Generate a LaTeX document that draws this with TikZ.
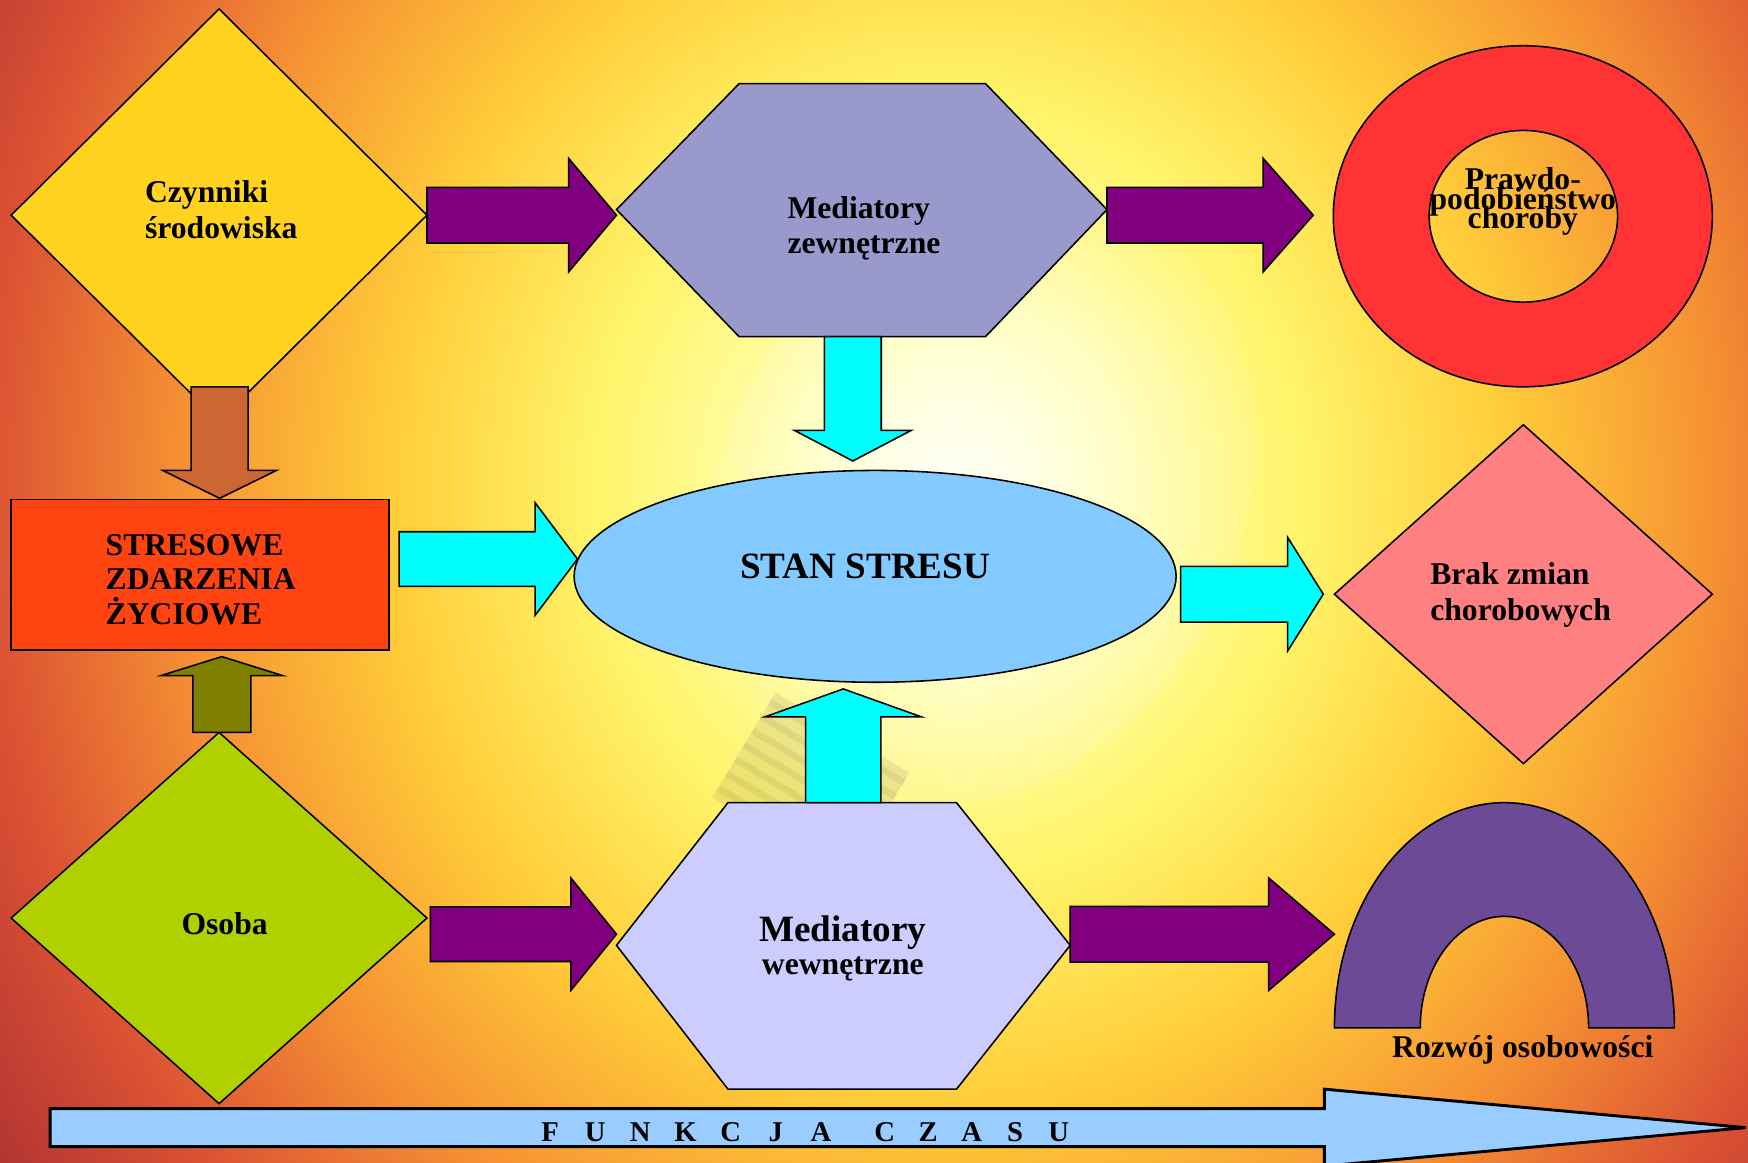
\documentclass[tikz,border=0pt]{standalone}
\usepackage{fontspec}
\setmainfont{Liberation Serif}
\usetikzlibrary{shapes.geometric,calc,fadings}
\definecolor{dyellow}{HTML}{FFD320}
\definecolor{dgreen}{HTML}{B0D000}
\definecolor{dpink}{HTML}{FF8080}
\definecolor{rectred}{HTML}{FF4411}
\definecolor{elblue}{HTML}{82CAFF}
\definecolor{hexa}{HTML}{9999CC}
\definecolor{hexb}{HTML}{CCCCFF}
\definecolor{ringred}{HTML}{FF3333}
\definecolor{archviolet}{HTML}{6C4A96}
\definecolor{timeblue}{HTML}{99CCFF}
\definecolor{apurple}{HTML}{800080}
\definecolor{acyan}{HTML}{00FFFF}
\definecolor{abrown}{HTML}{CC6633}
\definecolor{aolive}{HTML}{808000}
\pgfdeclareradialshading{bgshade}{\pgfpoint{0bp}{0bp}}{%
 rgb(0bp)=(1,1,0.93);
 rgb(3bp)=(1,1,0.72);
 rgb(7.5bp)=(1,0.96,0.42);
 rgb(12bp)=(1,0.8,0.22);
 rgb(16.5bp)=(0.96,0.56,0.2);
 rgb(20.5bp)=(0.86,0.32,0.2);
 rgb(25bp)=(0.66,0.18,0.2);
 rgb(50bp)=(0.66,0.18,0.2)}
\tikzfading[name=softglow, inner color=transparent!0, outer color=transparent!100]
\newcommand\blockarrow[6]{%
 \coordinate (ba-c) at ($(#3)!#6!(#2)$);
 \draw[#1] ($(#2)!#4!90:(#3)$) -- ($(ba-c)!#4!-90:(#2)$) -- ($(ba-c)!#5!-90:(#2)$)
  -- (#3) -- ($(ba-c)!#5!90:(#2)$) -- ($(ba-c)!#4!90:(#2)$) -- ($(#2)!#4!-90:(#3)$) -- cycle;}
\newcommand\tightfont{\bfseries\fontsize{14.2}{8.75}\selectfont\lineskiplimit=-50pt\relax}
\tikzset{
 shp/.style={draw=black, line width=0.7pt, inner sep=0pt, outer sep=0pt},
 arr/.style={draw=black, line width=0.7pt, line join=miter},
 txt/.style={font=\bfseries\fontsize{14.2}{15.8}\selectfont, inner sep=0pt, text=black},
 bigtxt/.style={font=\bfseries\fontsize{16.65}{18}\selectfont, inner sep=0pt, text=black},
}
\begin{document}
\begin{tikzpicture}[x=0.5pt,y=-0.5pt]
\useasboundingbox (0,0) rectangle (1568,1043);
% background
\begin{scope}
\clip (0,0) rectangle (1568,1043);
\shade[shading=bgshade] (850,440) ellipse [x radius=1050, y radius=1150];
\fill[white, opacity=0.6, path fading=softglow, rotate around={-31:(880,450)}] (880,450) ellipse [x radius=230, y radius=290];
\begin{scope}[rotate around={-31:(730,700)}]
\fill[gray!70!brown, opacity=0.16] (660,650) rectangle (800,760);
\foreach \k in {0,...,6} {\draw[gray!40!black, opacity=0.08, line width=3pt] (660,660+15*\k) -- (800,660+15*\k);}
\end{scope}
\end{scope}

% shapes
\node[shp, diamond, fill=dyellow, minimum width=186.5pt, minimum height=185pt] (czyn) at (196.5,193) {};
\node[shp, rectangle, fill=rectred, minimum width=169.5pt, minimum height=67.5pt] (stres) at (179.5,515.5) {};
\node[shp, diamond, fill=dgreen, minimum width=186.5pt, minimum height=166.5pt] (osoba) at (196.5,823.5) {};
\node[shp, ellipse, fill=elblue, minimum width=270pt, minimum height=95pt] (stan) at (785,517) {};
\node[shp, diamond, fill=dpink, minimum width=169.5pt, minimum height=152pt] (brak) at (1366.5,533) {};
\draw[shp, fill=hexa] (663,75) -- (884,75) -- (993,188) -- (884,302) coordinate (mzS) -- (663,302) -- (553,188) -- cycle;
\draw[shp, fill=hexb] (653,720) -- (858,720) -- (960,848) -- (858,977) -- (653,977) -- (553,848) -- cycle;
\draw[shp, fill=ringred, even odd rule] (1366,194) ellipse [x radius=170, y radius=153]
  (1366.5,194) ellipse [x radius=84.5, y radius=77];
\draw[shp, fill=archviolet] (1197,922) arc[start angle=180, end angle=360, x radius=152.5, y radius=202]
  -- (1425,922) arc[start angle=0, end angle=-180, x radius=75.5, y radius=100] -- cycle;

% arrow end points
\coordinate (a1s) at (czyn.east);   \coordinate (a1e) at (553,193);
\coordinate (a2s) at (993,193);     \coordinate (a2e) at (1178,193);
\coordinate (a3s) at (386,838);     \coordinate (a3e) at (553,838);
\coordinate (a4s) at (960,838);     \coordinate (a4e) at (1197,838);
\coordinate (a5s) at (358,501.5);   \coordinate (a5e) at (518,501.5);
\coordinate (a6s) at (1059,533);    \coordinate (a6e) at (1187,533);
\coordinate (a7s) at (765,302);     \coordinate (a7e) at (765,413.5);
\coordinate (a8s) at (756.4,720);   \coordinate (a8e) at (756.4,618);
\coordinate (a9s) at (197,347);     \coordinate (a9e) at (197,447);
\coordinate (a10s) at (199,657);    \coordinate (a10e) at (199,589);
\coordinate (tts) at (45,1011.5);   \coordinate (tte) at (1566,1011.5);

\blockarrow{arr, fill=apurple}{a1s}{a1e}{12.5pt}{25.5pt}{21.5pt}
\blockarrow{arr, fill=apurple}{a2s}{a2e}{12.5pt}{25.5pt}{22.5pt}
\blockarrow{arr, fill=apurple}{a3s}{a3e}{12.25pt}{25.25pt}{20.5pt}
\blockarrow{arr, fill=apurple}{a4s}{a4e}{12.5pt}{25.25pt}{29.5pt}
\blockarrow{arr, fill=acyan}{a5s}{a5e}{12.25pt}{25.25pt}{19pt}
\blockarrow{arr, fill=acyan}{a6s}{a6e}{12.5pt}{25.5pt}{16pt}
\blockarrow{arr, fill=acyan}{a7s}{a7e}{12.75pt}{26.25pt}{13.75pt}
\blockarrow{arr, fill=acyan}{a8s}{a8e}{16.85pt}{35pt}{12.5pt}
\blockarrow{arr, fill=abrown}{a9s}{a9e}{12.75pt}{25.5pt}{12.5pt}
\blockarrow{arr, fill=aolive}{a10s}{a10e}{13pt}{27.25pt}{8.5pt}
\blockarrow{draw=black, line width=1.3pt, line join=miter, fill=timeblue}{tts}{tte}{8.5pt}{17.25pt}{189pt}

% texts
\node[txt, align=left] (tczyn) at (198.5,188) {Czynniki\\środowiska};
\node[txt, align=left, anchor=west] (tmz) at (706,205) {Mediatory\\zewnętrzne};
\node[txt, align=center, font=\tightfont] (tpraw) at (1366,181) {Prawdo-\\podobieństwo\\choroby};
\node[txt, align=left, font=\bfseries\fontsize{14.2}{15.5}\selectfont] (tstres) at (180,520) {STRESOWE\\ZDARZENIA\\ŻYCIOWE};
\node[bigtxt, anchor=base] (tstan) at (776,518.6) {STAN STRESU};
\node[txt, align=left, font=\bfseries\fontsize{14.2}{16.5}\selectfont] (tbrak) at (1364,533.7) {Brak zmian\\chorobowych};
\node[txt, anchor=base] (tosoba) at (201.5,838) {Osoba};
\node[txt, align=center, font=\bfseries\fontsize{14.2}{15}\selectfont] (tmw) at (756,851) {{\fontsize{16.65}{15}\selectfont Mediatory}\\wewnętrzne};
\node[txt, anchor=base] (troz) at (1366,949) {Rozwój osobowości};
\node[txt, anchor=base west, font=\bfseries\fontsize{12.85}{14}\selectfont] (tczas) at (472.75,1024)
 {\makebox[20.25pt]{F}\makebox[20.25pt]{U}\makebox[20.25pt]{N}\makebox[20.25pt]{K}\makebox[20.25pt]{C}\makebox[20.25pt]{J}\makebox[20.25pt]{A}\hspace{8.75pt}\makebox[19.5pt]{C}\makebox[19.5pt]{Z}\makebox[19.5pt]{A}\makebox[19.5pt]{S}\makebox[19.5pt]{U}};
\end{tikzpicture}
\end{document}
